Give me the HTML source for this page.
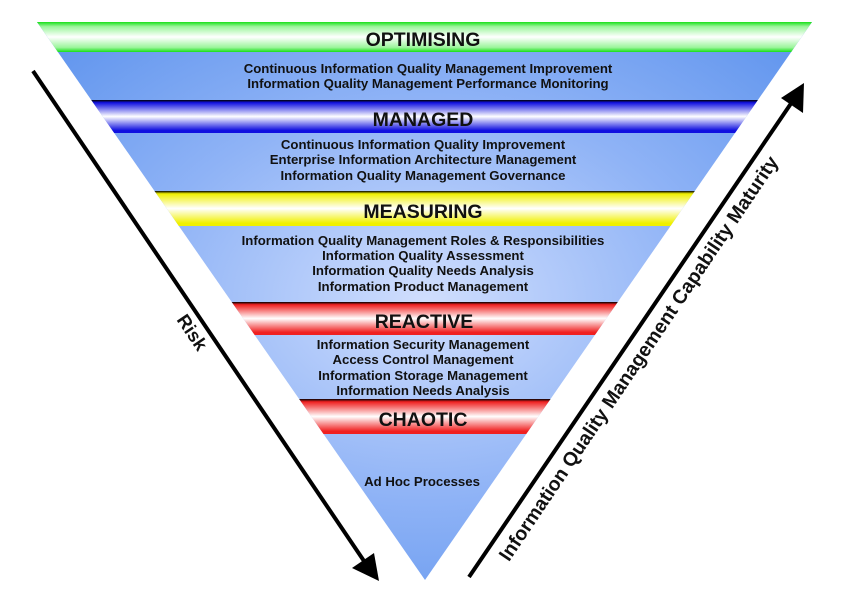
<!DOCTYPE html>
<html><head><meta charset="utf-8"><style>
html,body{margin:0;padding:0;background:#fff;width:850px;height:612px;overflow:hidden}
svg{display:block}
text{font-family:"Liberation Sans",Arial,sans-serif;font-weight:bold;fill:#111}
</style></head><body>
<svg width="850" height="612" viewBox="0 0 850 612" xmlns="http://www.w3.org/2000/svg">
<defs>
<clipPath id="tri"><polygon points="37,22 812,22 425,580"/></clipPath>
<radialGradient id="blue" cx="0.5" cy="0.5" r="0.6">
<stop offset="0" stop-color="#d0defd"/><stop offset="0.55" stop-color="#8fb3f6"/><stop offset="1" stop-color="#6296ee"/></radialGradient>
<linearGradient id="g" x1="0" y1="0" x2="0" y2="1"><stop offset="0" stop-color="#18e018"/><stop offset="0.15" stop-color="#9af59a"/><stop offset="0.5" stop-color="#fff"/><stop offset="0.85" stop-color="#9af59a"/><stop offset="1" stop-color="#18e018"/></linearGradient>
<linearGradient id="b" x1="0" y1="0" x2="0" y2="1"><stop offset="0" stop-color="#000"/><stop offset="0.08" stop-color="#1010e0"/><stop offset="0.5" stop-color="#fff"/><stop offset="0.92" stop-color="#1010e0"/><stop offset="1" stop-color="#1010e0"/></linearGradient>
<linearGradient id="y" x1="0" y1="0" x2="0" y2="1"><stop offset="0" stop-color="#000"/><stop offset="0.08" stop-color="#f0f000"/><stop offset="0.5" stop-color="#fff"/><stop offset="0.92" stop-color="#f0f000"/><stop offset="1" stop-color="#f0f000"/></linearGradient>
<linearGradient id="r" x1="0" y1="0" x2="0" y2="1"><stop offset="0" stop-color="#000"/><stop offset="0.08" stop-color="#f02020"/><stop offset="0.5" stop-color="#fff"/><stop offset="0.92" stop-color="#f02020"/><stop offset="1" stop-color="#f02020"/></linearGradient>
</defs>
<g clip-path="url(#tri)">
<rect x="0" y="0" width="850" height="600" fill="url(#blue)"/>
<rect x="0" y="22" width="850" height="30" fill="url(#g)"/>
<rect x="0" y="100" width="850" height="33" fill="url(#b)"/>
<rect x="0" y="191" width="850" height="35" fill="url(#y)"/>
<rect x="0" y="302" width="850" height="33" fill="url(#r)"/>
<rect x="0" y="399" width="850" height="35" fill="url(#r)"/>
</g>
<g text-anchor="middle">
<text x="423" y="46" font-size="19.5">OPTIMISING</text>
<text x="428" y="73" font-size="13.2">Continuous Information Quality Management Improvement</text>
<text x="428" y="88" font-size="13.2">Information Quality Management Performance Monitoring</text>
<text x="423" y="126" font-size="19.5">MANAGED</text>
<text x="423" y="149" font-size="13.2">Continuous Information Quality Improvement</text>
<text x="423" y="164" font-size="13.2">Enterprise Information Architecture Management</text>
<text x="423" y="180" font-size="13.2">Information Quality Management Governance</text>
<text x="423" y="218" font-size="19.5">MEASURING</text>
<text x="423" y="245" font-size="13.2">Information Quality Management Roles &amp; Responsibilities</text>
<text x="423" y="260" font-size="13.2">Information Quality Assessment</text>
<text x="423" y="275" font-size="13.2">Information Quality Needs Analysis</text>
<text x="423" y="291" font-size="13.2">Information Product Management</text>
<text x="424" y="328" font-size="19.5">REACTIVE</text>
<text x="423" y="349" font-size="13.2">Information Security Management</text>
<text x="423" y="364" font-size="13.2">Access Control Management</text>
<text x="423" y="380" font-size="13.2">Information Storage Management</text>
<text x="423" y="395" font-size="13.2">Information Needs Analysis</text>
<text x="423" y="426" font-size="19.5">CHAOTIC</text>
<text x="422" y="486" font-size="13.2">Ad Hoc Processes</text>
</g>
<line x1="33" y1="71" x2="364" y2="561" stroke="#000" stroke-width="4"/>
<polygon points="379,581 352,568 374,553" fill="#000"/>
<line x1="469" y1="577" x2="792" y2="102" stroke="#000" stroke-width="4"/>
<polygon points="804,83 803,113 781,98" fill="#000"/>
<text x="187" y="336" font-size="18.5" text-anchor="middle" transform="rotate(56 187 336)">Risk</text>
<text x="644" y="362" font-size="19.5" text-anchor="middle" transform="rotate(-56 644 362)">Information Quality Management Capability Maturity</text>
</svg>
</body></html>
